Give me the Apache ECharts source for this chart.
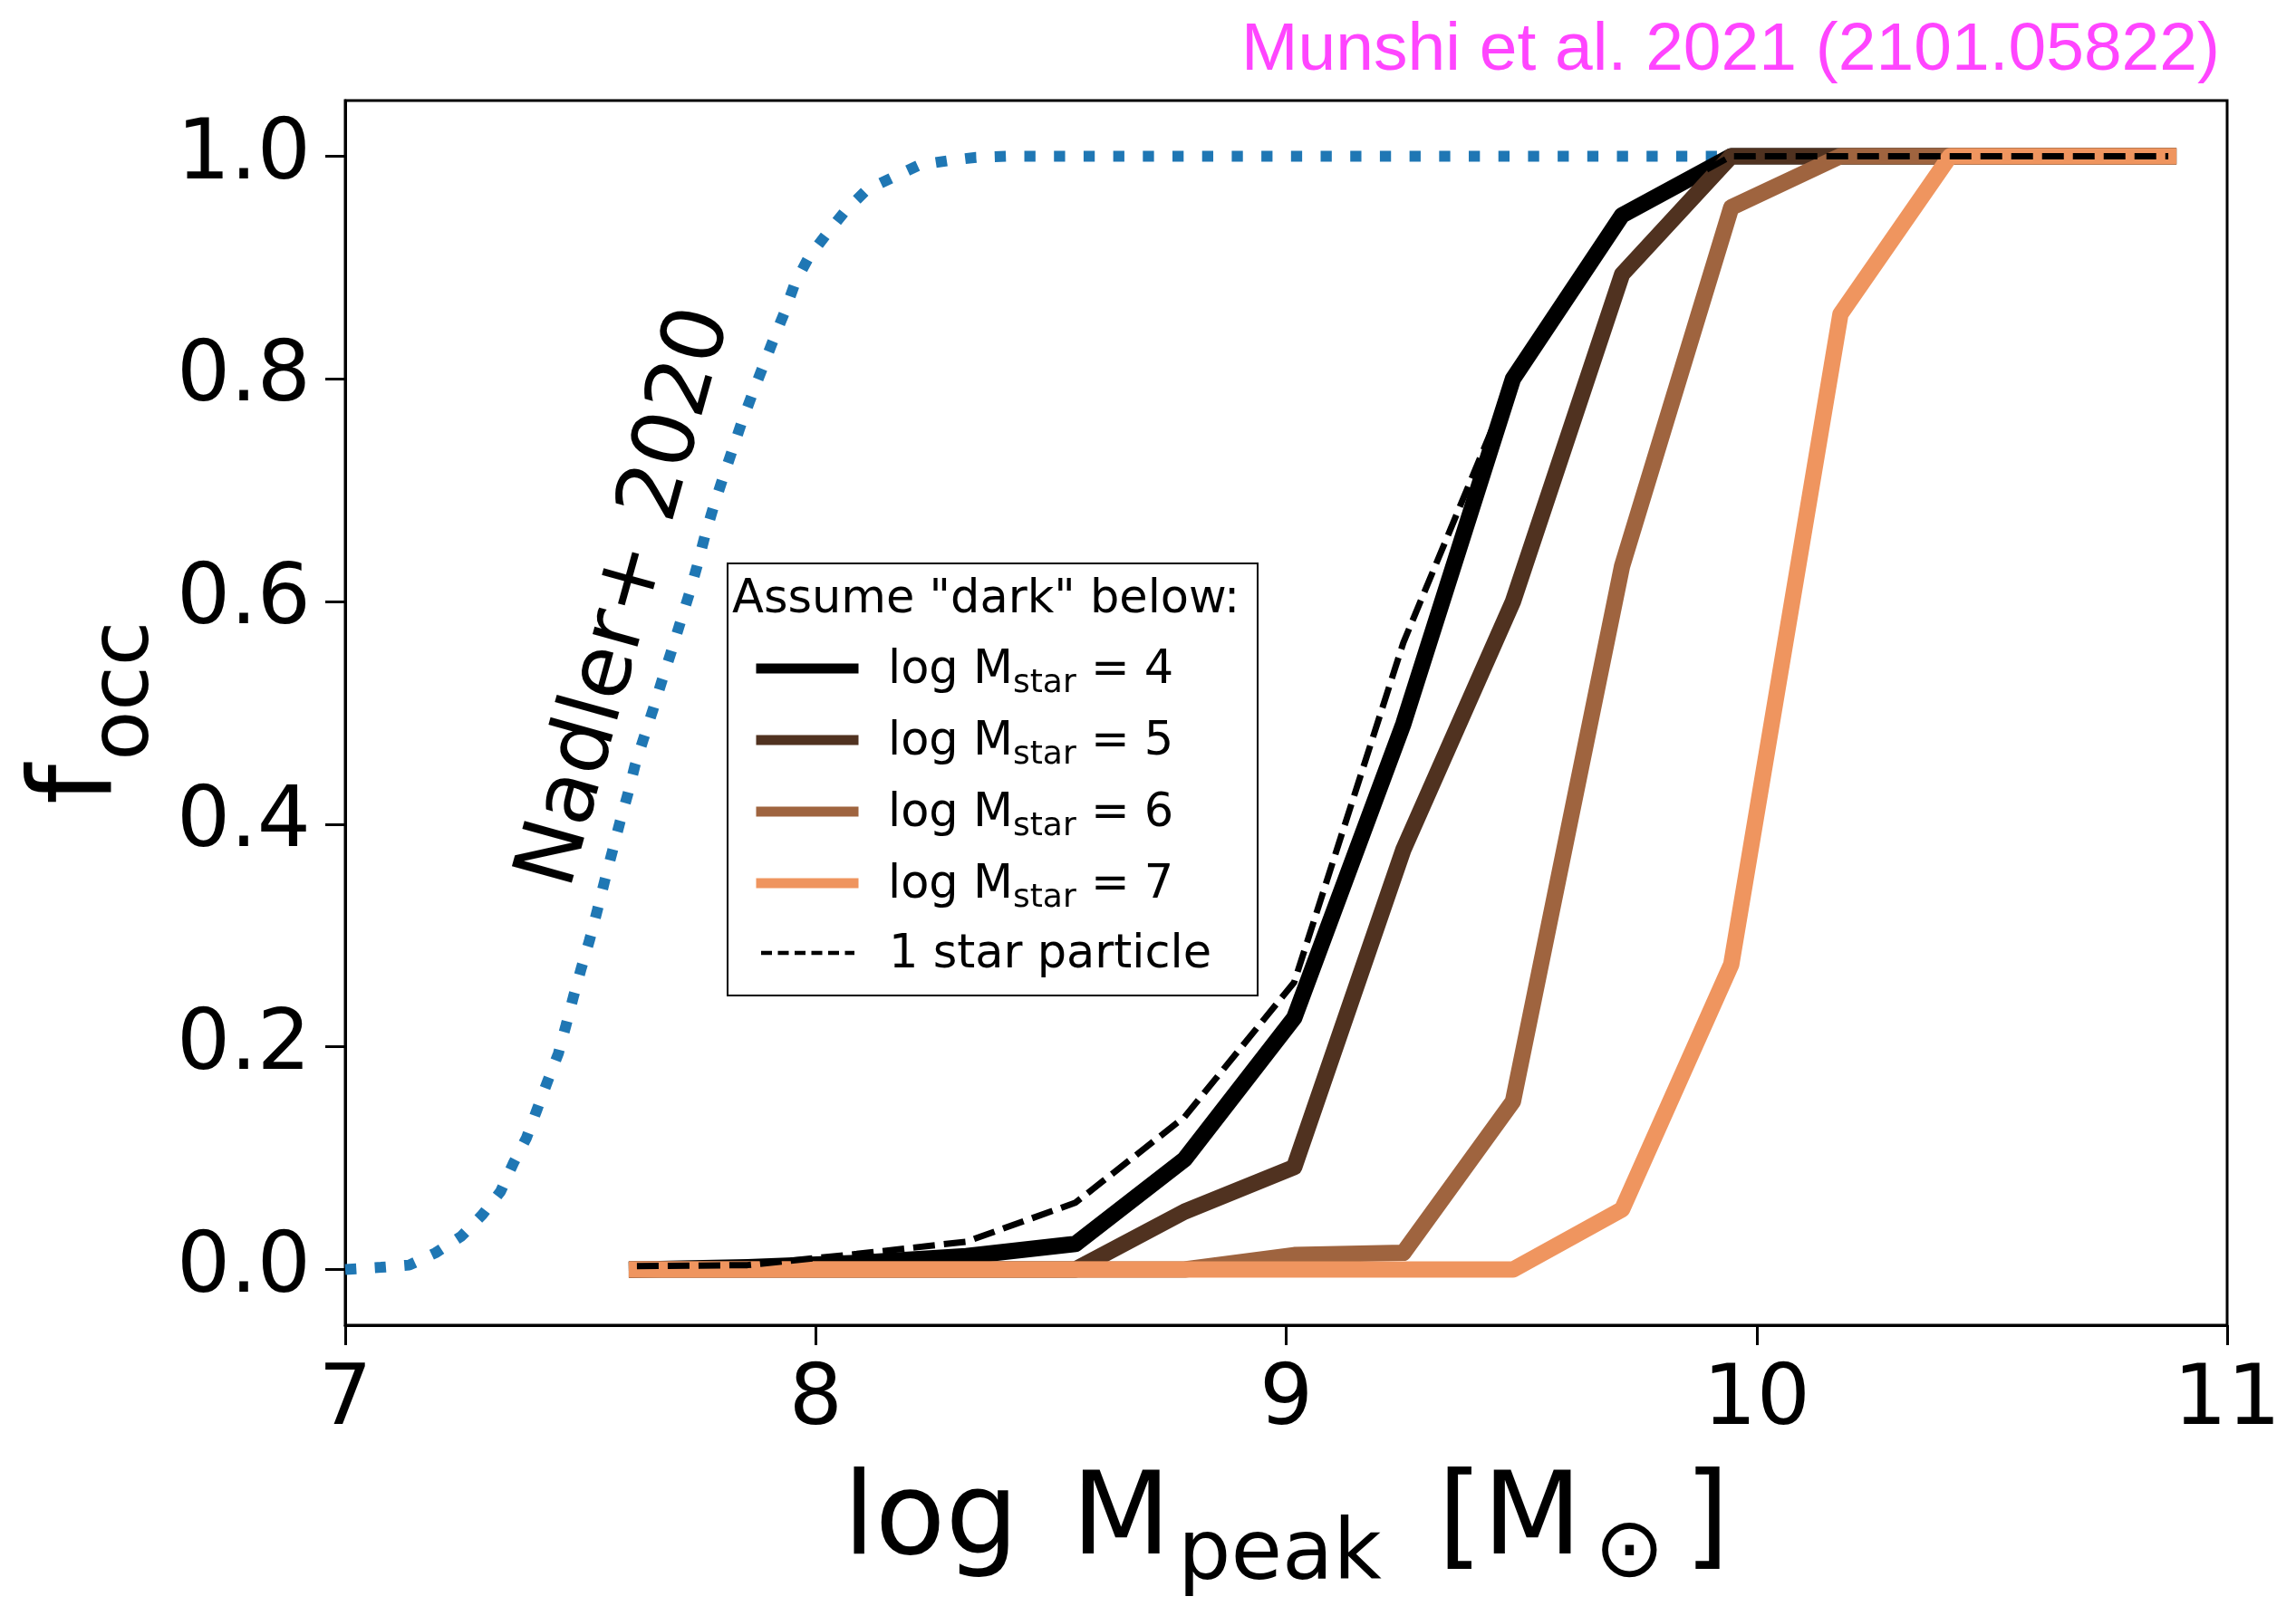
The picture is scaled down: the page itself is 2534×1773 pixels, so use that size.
<!DOCTYPE html>
<html>
<head>
<meta charset="utf-8">
<script src="https://cdn.jsdelivr.net/npm/echarts@6/dist/echarts.min.js"></script>
<style>
html,body{margin:0;padding:0;background:#fff;}
#chart{width:2534px;height:1773px;}
</style>
</head>
<body>
<div id="chart"></div>
<script>
// ---- data ----
const logMpeak = [7.62, 7.855, 8.087, 8.32, 8.552, 8.784, 9.017, 9.249, 9.482, 9.714, 9.946, 10.178, 10.411, 10.643, 10.875];
const foccMstar4 = [0, 0.002, 0.006, 0.012, 0.023, 0.099, 0.226, 0.49, 0.80, 0.947, 1, 1, 1, 1, 1];
const foccMstar5 = [0, 0, 0, 0, 0, 0.052, 0.092, 0.377, 0.600, 0.894, 1, 1, 1, 1, 1];
const foccMstar6 = [0, 0, 0, 0, 0, 0, 0.013, 0.015, 0.151, 0.632, 0.954, 1, 1, 1, 1];
const foccMstar7 = [0, 0, 0, 0, 0, 0, 0, 0, 0, 0.054, 0.274, 0.858, 1, 1, 1];
const foccOneStar = [0.003, 0.004, 0.014, 0.025, 0.06, 0.137, 0.258, 0.563, 0.80, 0.947, 1, 1, 1, 1, 1];

const nadlerX = [7.0, 7.076, 7.136, 7.192, 7.247, 7.291, 7.33, 7.358, 7.385, 7.407, 7.43, 7.453, 7.469, 7.485, 7.502, 7.52, 7.536, 7.552, 7.568, 7.584, 7.6, 7.616, 7.635, 7.655, 7.674, 7.693, 7.712, 7.732, 7.748, 7.764, 7.782, 7.802, 7.822, 7.842, 7.865, 7.887, 7.91, 7.934, 7.956, 7.985, 8.023, 8.063, 8.109, 8.164, 8.22, 8.281, 8.341, 8.41, 10.8];
const nadlerY = [0.0, 0.002, 0.004, 0.015, 0.030, 0.049, 0.070, 0.096, 0.118, 0.143, 0.169, 0.194, 0.219, 0.245, 0.271, 0.297, 0.323, 0.350, 0.376, 0.402, 0.426, 0.453, 0.478, 0.504, 0.530, 0.555, 0.581, 0.608, 0.632, 0.658, 0.684, 0.710, 0.735, 0.760, 0.786, 0.810, 0.835, 0.860, 0.886, 0.909, 0.930, 0.951, 0.970, 0.981, 0.992, 0.996, 0.999, 1.0, 1.0];

const xTicks = [7, 8, 9, 10, 11];
const yTicks = [0, 0.2, 0.4, 0.6, 0.8, 1.0];
const legendTitle = 'Assume "dark" below:';
const legendLabels = ['4', '5', '6', '7'];
const legendLast = '1 star particle';
const nadlerLabel = 'Nadler+ 2020';
const creditText = 'Munshi et al. 2021 (2101.05822)';

// ---- styles ----
const FONT = 'DejaVu Sans';
const colors = ['#000000', '#503220', '#9f643f', '#ef955f'];

function pairs(xs, ys) { return xs.map((x, i) => [x, ys[i]]); }
function solid(name, ys, color, width) {
  return {
    type: 'line', name: name, data: pairs(logMpeak, ys), symbol: 'none', silent: true,
    lineStyle: { color: color, width: width, cap: 'square', join: 'round' },
    itemStyle: { color: color }
  };
}

const chart = echarts.init(document.getElementById('chart'), null, { renderer: 'canvas' });

// legend drawn as graphic group
const LX = 803, LY = 622, LW = 585, LH = 477;
const itemY = [738, 817, 896, 975, 1052];
const TY = 3;
const legendChildren = [
  { type: 'rect', shape: { x: LX, y: LY, width: LW, height: LH }, style: { fill: '#fff', stroke: '#000', lineWidth: 2 } },
  { type: 'text', x: 808, y: 663, style: { text: legendTitle, font: '51px "DejaVu Sans"', fill: '#000', align: 'left', verticalAlign: 'middle' } }
];
legendLabels.forEach((v, i) => {
  legendChildren.push({ type: 'line', shape: { x1: 840, y1: itemY[i], x2: 942, y2: itemY[i] }, style: { stroke: colors[i], lineWidth: 11, lineCap: 'square' } });
  legendChildren.push({ type: 'text', x: 980, y: itemY[i] + TY, style: {
    text: '{m|log M}{s|star}{m| = ' + v + '}', align: 'left', verticalAlign: 'middle', fill: '#000',
    rich: {
      m: { fontFamily: FONT, fontSize: 51, lineHeight: 58, verticalAlign: 'middle', fill: '#000' },
      s: { fontFamily: FONT, fontSize: 36, lineHeight: 58, verticalAlign: 'middle', padding: [28, 0, 0, 0], fill: '#000' }
    } } });
});
legendChildren.push({ type: 'line', shape: { x1: 840, y1: itemY[4], x2: 943, y2: itemY[4] }, style: { stroke: '#000', lineWidth: 4.5, lineDash: [12, 6.5] } });
legendChildren.push({ type: 'text', x: 981, y: itemY[4] + TY, style: { text: legendLast, font: '51px "DejaVu Sans"', fill: '#000', align: 'left', verticalAlign: 'middle' } });

const option = {
  animation: false,
  backgroundColor: '#ffffff',
  grid: { left: 381, right: 76, top: 111, bottom: 310, show: true, borderColor: '#000', borderWidth: 3, backgroundColor: 'transparent', containLabel: false, outerBoundsMode: 'none' },
  xAxis: {
    type: 'value', min: 7, max: 11, interval: 1,
    axisLine: { show: true, onZero: false, lineStyle: { color: '#000', width: 3 } },
    axisTick: { show: true, inside: false, length: 22, lineStyle: { color: '#000', width: 3 } },
    axisLabel: { show: true, margin: 38, color: '#000', fontFamily: FONT, fontSize: 93, formatter: v => String(v) },
    splitLine: { show: false },
    name: '{l|log}{m| M}{s|peak}{m|[M}{o|⊙}{m|]}',
    nameLocation: 'middle', nameGap: 213,
    nameTextStyle: {
      align: 'center', verticalAlign: 'middle', color: '#000', fontFamily: FONT, fontSize: 127,
      rich: {
        l: { fontFamily: FONT, fontSize: 127, lineHeight: 140, verticalAlign: 'middle', padding: [0, 18, 0, 0], color: '#000' },
        m: { fontFamily: FONT, fontSize: 127, lineHeight: 140, verticalAlign: 'middle', color: '#000' },
        s: { fontFamily: FONT, fontSize: 92, lineHeight: 140, verticalAlign: 'middle', padding: [74, 62, 0, 8], color: '#000' },
        o: { fontFamily: FONT, fontSize: 92, lineHeight: 140, verticalAlign: 'middle', padding: [68, 22, 0, 14], color: '#000' }
      }
    }
  },
  yAxis: {
    type: 'value', min: -0.05, max: 1.05,
    axisLine: { show: true, onZero: false, lineStyle: { color: '#000', width: 3 } },
    axisTick: { show: true, inside: false, length: 22, customValues: yTicks, lineStyle: { color: '#000', width: 3 } },
    axisLabel: { show: true, margin: 38, customValues: yTicks, color: '#000', fontFamily: FONT, fontSize: 93, formatter: v => v.toFixed(1) },
    splitLine: { show: false },
    name: '{m|f}{s|occ}',
    nameLocation: 'middle', nameGap: 291, nameRotate: 90,
    nameTextStyle: {
      align: 'center', verticalAlign: 'middle', color: '#000', fontFamily: FONT, fontSize: 126,
      rich: {
        m: { fontFamily: FONT, fontSize: 126, lineHeight: 140, verticalAlign: 'middle', color: '#000' },
        s: { fontFamily: FONT, fontSize: 90, lineHeight: 140, verticalAlign: 'middle', padding: [100, 0, 0, 4], color: '#000' }
      }
    }
  },
  series: [
    {
      type: 'line', name: 'Nadler+ 2020', data: pairs(nadlerX, nadlerY), symbol: 'none', silent: true,
      lineStyle: { color: '#1f77b4', width: 12, type: [12.3, 20.4], cap: 'butt' },
      itemStyle: { color: '#1f77b4' }
    },
    solid('log Mstar = 4', foccMstar4, colors[0], 18),
    solid('log Mstar = 5', foccMstar5, colors[1], 18),
    solid('log Mstar = 6', foccMstar6, colors[2], 18),
    solid('log Mstar = 7', foccMstar7, colors[3], 18),
    {
      type: 'line', name: '1 star particle', data: pairs(logMpeak, foccOneStar), symbol: 'none', silent: true,
      lineStyle: { color: '#000', width: 7, type: [24, 10], cap: 'butt' },
      itemStyle: { color: '#000' }
    }
  ],
  graphic: [
    { type: 'group', children: legendChildren, z: 100 },
    { type: 'text', x: 693, y: 660, rotation: 74.5 * Math.PI / 180, z: 100,
      style: { text: nadlerLabel, font: '94px "DejaVu Sans"', fill: '#000', align: 'center', verticalAlign: 'middle' } },
    { type: 'text', x: 2450, y: 56, z: 100,
      style: { text: creditText, font: '75px "Liberation Sans"', fill: '#ff45ff', align: 'right', verticalAlign: 'middle' } }
  ]
};
chart.setOption(option);
</script>
</body>
</html>
